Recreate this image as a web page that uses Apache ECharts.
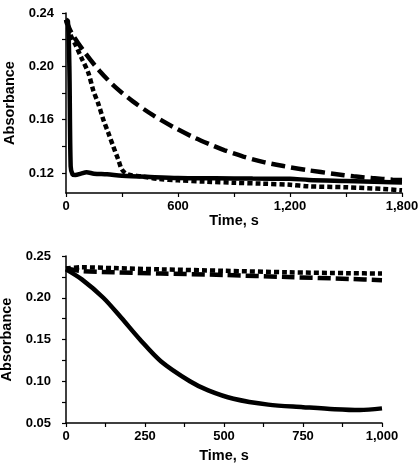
<!DOCTYPE html>
<html><head><meta charset="utf-8">
<script src="https://cdn.jsdelivr.net/npm/echarts@6/dist/echarts.min.js"></script>
<style>html,body{margin:0;padding:0;background:#fff}#c{width:420px;height:468px}</style>
</head><body><div id="c"></div>
<script>
// Top panel data (time s, absorbance)
const topSolidT = [0, 10, 18, 25, 35, 50, 80, 110, 150, 220, 300, 450, 600, 800, 1000, 1200, 1300, 1500, 1700, 1800];
const topSolidV = [0.235, 0.234, 0.2, 0.125, 0.119, 0.1185, 0.1195, 0.1205, 0.1195, 0.119, 0.118, 0.117, 0.1162, 0.116, 0.1158, 0.1157, 0.1148, 0.114, 0.1132, 0.1128];
const topDashT = [0, 30, 100, 180, 260, 360, 470, 575, 680, 770, 850, 950, 1065, 1165, 1290, 1440, 1540, 1640, 1750, 1800];
const topDashV = [0.235, 0.225, 0.2105, 0.1965, 0.185, 0.1735, 0.163, 0.1545, 0.147, 0.1415, 0.137, 0.1323, 0.128, 0.1252, 0.1222, 0.1193, 0.1175, 0.1162, 0.115, 0.1147];
const topDotT = [0, 20, 48, 84, 120, 146, 173, 200, 227, 253, 280, 300, 330, 400, 500, 600, 750, 900, 1050, 1200, 1300, 1500, 1700, 1800];
const topDotV = [0.235, 0.225, 0.217, 0.206, 0.195, 0.182, 0.172, 0.16, 0.15, 0.14, 0.13, 0.1225, 0.119, 0.1175, 0.1155, 0.1145, 0.1135, 0.1127, 0.112, 0.1112, 0.110, 0.1093, 0.108, 0.107];
// Bottom panel data
const botSolidT = [0, 50, 118, 175, 234, 300, 392, 450, 530, 640, 750, 850, 930, 1000];
const botSolidV = [0.234, 0.222, 0.20, 0.176, 0.15, 0.124, 0.10, 0.089, 0.079, 0.072, 0.069, 0.0665, 0.0655, 0.0675];
const botDashT = [0, 50, 150, 300, 500, 700, 900, 1000];
const botDashV = [0.235, 0.232, 0.2305, 0.229, 0.2273, 0.2248, 0.2225, 0.221];
const botDotT = [0, 50, 150, 300, 500, 700, 900, 1000];
const botDotV = [0.235, 0.2365, 0.2355, 0.234, 0.2323, 0.2305, 0.2294, 0.229];
// Tick labels
const topXLabels = [0, 600, 1200, 1800];
const topXTicks = [0, 300, 600, 900, 1200, 1500, 1800];
const topYLabels = [0.12, 0.16, 0.20, 0.24];
const topYTicks = [0.12, 0.14, 0.16, 0.18, 0.20, 0.22, 0.24];
const botXLabels = [0, 250, 500, 750, 1000];
const botXTicks = [0, 125, 250, 375, 500, 625, 750, 875, 1000];
const botYLabels = [0.05, 0.10, 0.15, 0.20, 0.25];
const botYTicks = [0.05, 0.075, 0.10, 0.125, 0.15, 0.175, 0.20, 0.225, 0.25];

const zip = (a, b) => a.map((t, i) => [t, b[i]]);
const fmtX = v => { const s = String(Math.round(v)); return s.length > 3 ? s.slice(0, s.length - 3) + ',' + s.slice(-3) : s; };
const FONT = 'Liberation Sans, Arial, Helvetica, sans-serif';
const axisLine = { show: true, onZero: false, lineStyle: { color: '#000', width: 1.5 } };
function xAx(gi, max, labels, ticks, gap) {
  return { type: 'value', gridIndex: gi, min: 0, max: max, splitLine: { show: false },
    axisLine: axisLine,
    axisTick: { show: true, customValues: ticks, length: 4, inside: false, lineStyle: { color: '#000', width: 1.2 } },
    axisLabel: { customValues: labels, formatter: fmtX, color: '#000', fontFamily: FONT, fontWeight: 'bold', fontSize: 13, margin: 7 },
    name: 'Time, s', nameLocation: 'middle', nameGap: gap,
    nameTextStyle: { color: '#000', fontFamily: FONT, fontWeight: 'bold', fontSize: 14.5 } };
}
function yAx(gi, min, max, labels, ticks, margin) {
  return { type: 'value', gridIndex: gi, min: min, max: max, splitLine: { show: false },
    axisLine: axisLine,
    axisTick: { show: true, customValues: ticks, length: 4, lineStyle: { color: '#000', width: 1.2 } },
    axisLabel: { customValues: labels, formatter: v => v.toFixed(2), color: '#000', fontFamily: FONT, fontWeight: 'bold', fontSize: 13, margin: margin },
    name: 'Absorbance', nameLocation: 'middle', nameGap: 48, nameRotate: 90,
    nameTextStyle: { color: '#000', fontFamily: FONT, fontWeight: 'bold', fontSize: 14.5 } };
}
function ser(xi, data, type) {
  return { type: 'line', xAxisIndex: xi, yAxisIndex: xi, data: data, symbol: 'none', smooth: 0.3,
    lineStyle: { color: '#000', width: 4.5, type: type, cap: 'butt' }, animation: false };
}
const chart = echarts.init(document.getElementById('c'), null, { renderer: 'canvas' });
chart.setOption({
  animation: false,
  backgroundColor: '#fff',
  grid: [
    { left: 66, right: 18, top: 13, height: 180, containLabel: false, outerBoundsMode: 'none' },
    { left: 66, right: 38, top: 256, height: 167, containLabel: false, outerBoundsMode: 'none' }
  ],
  xAxis: [xAx(0, 1800, topXLabels, topXTicks, 18), xAx(1, 1000, botXLabels, botXTicks, 25)],
  yAxis: [yAx(0, 0.105, 0.24, topYLabels, topYTicks, 12), yAx(1, 0.05, 0.25, botYLabels, botYTicks, 15)],
  series: [
    ser(0, zip(topDashT, topDashV), [14, 6]),
    ser(0, zip(topDotT, topDotV), [5, 3]),
    ser(0, zip(topSolidT, topSolidV), 'solid'),
    ser(1, zip(botDashT, botDashV), [13, 5]),
    ser(1, zip(botDotT, botDotV), [5, 3]),
    ser(1, zip(botSolidT, botSolidV), 'solid')
  ]
});
</script></body></html>
